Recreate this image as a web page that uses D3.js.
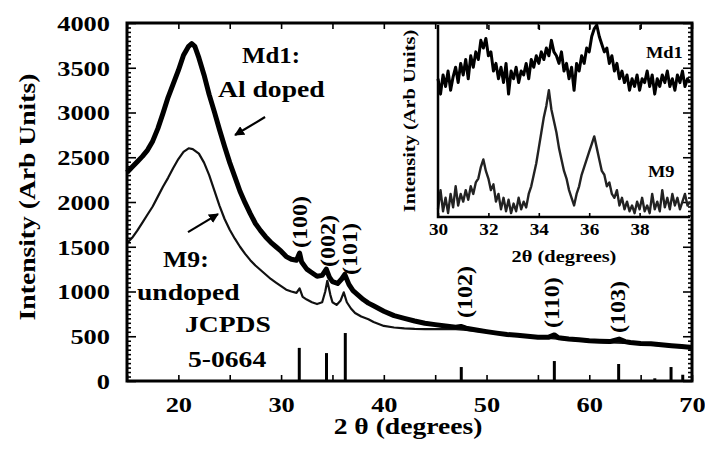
<!DOCTYPE html>
<html><head><meta charset="utf-8">
<script src="https://cdn.jsdelivr.net/npm/d3@7"></script>
<style>html,body{margin:0;padding:0;background:#fff;}svg{display:block;}</style>
</head><body>
<svg id="c" width="705" height="451"></svg>
<script>
// ---------------- DATA ----------------
const md1_2theta = [15,15.5,16,16.5,17,17.5,18,18.5,19,19.5,20,20.5,21,21.3,21.6,22,22.5,23,23.5,24,24.5,25,25.5,26,26.5,27,27.5,28,28.5,29,29.5,30,30.5,31,31.5,31.8,32,32.5,33,33.5,34,34.4,34.7,35,35.5,35.9,36.2,36.6,37,37.5,38,38.5,39,40,41,42,43,44,45,46,47,47.5,48,49,50,51,52,53,54,55,56,56.6,57,58,59,60,61,62,62.9,63.5,64,65,66,67,68,69,70];
const md1_intensity = [2330,2390,2450,2510,2580,2680,2820,2990,3170,3320,3470,3640,3740,3770,3740,3610,3420,3200,3010,2810,2620,2440,2280,2120,1990,1870,1760,1680,1610,1550,1500,1450,1390,1360,1350,1430,1330,1250,1210,1170,1180,1250,1160,1110,1090,1140,1190,1080,1010,960,910,870,840,780,730,700,670,645,630,615,602,610,590,570,552,535,520,510,500,490,488,515,483,470,460,450,445,440,468,440,430,420,415,405,395,385,375];
const m9_2theta = [15,15.5,16,16.5,17,17.5,18,18.5,19,19.5,20,20.5,21,21.4,22,22.5,23,23.5,24,24.5,25,25.5,26,26.5,27,27.5,28,28.5,29,29.5,30,30.5,31,31.5,31.8,32.1,32.5,33,33.5,34,34.3,34.5,34.8,35,35.4,35.8,36.1,36.4,36.8,37.2,37.8,38.5,39,40,41,42,43,44,45,46,47,48,49,50,52,54,56,58,60,62,64,66,68,70];
const m9_intensity = [1540,1600,1680,1770,1860,1950,2060,2170,2270,2380,2480,2560,2600,2590,2540,2440,2300,2130,1960,1810,1690,1590,1500,1420,1350,1290,1240,1190,1140,1100,1060,1020,1000,985,1035,940,910,880,860,880,1000,1120,960,880,850,900,990,880,810,760,720,690,660,615,598,588,582,580,580,580,578,572,560,545,515,492,482,462,442,432,422,407,387,367];
// JCPDS 5-0664 reference sticks
const jcpds_2theta = [31.77,34.42,36.25,47.54,56.60,62.86,66.38,67.96,69.10];
const jcpds_intensity = [370,312,536,156,223,190,30,156,70];
const miller_labels = ["(100)","(002)","(101)","(102)","(110)","(103)"];
const miller_pos = [[32.55,1486],[35.25,1273],[37.4,1184],[48.6,704],[57.06,592],[63.5,536]];
// inset (30-40 deg, arbitrary units), sampled every 0.1 deg
const inset_start = 30, inset_step = 0.1;
const inset_md1 = [72,64,74,68,76,66,73,78,70,80,74,82,72,84,78,86,82,92,88,93,84,86,76,80,72,78,70,80,64,76,72,78,70,76,74,80,72,82,78,84,80,86,82,88,84,92,86,84,80,86,76,80,72,78,66,80,76,84,80,88,86,94,98,100,94,90,86,88,80,84,76,80,72,76,70,74,66,72,68,74,66,72,70,76,68,74,64,72,68,74,70,76,68,72,66,74,70,76,68,72,70];
const inset_m9 = [4,14,3,10,2,12,5,16,6,12,8,14,9,16,12,18,20,26,30,24,20,14,17,8,12,4,10,3,9,2,7,3,10,4,8,5,12,16,22,28,36,44,52,58,66,56,50,44,36,30,24,20,14,10,6,12,16,22,26,30,34,38,42,36,30,24,22,16,18,12,10,14,6,10,4,8,3,6,2,8,4,10,3,6,2,12,4,8,3,14,5,10,4,12,6,10,4,8,12,6,8];
const x_ticks = [20,30,40,50,60,70];
const y_ticks = [0,500,1000,1500,2000,2500,3000,3500,4000];
const inset_x_ticks = [30,32,34,36,38];

// ---------------- CHART ----------------
const FONT = "'Liberation Serif','Times New Roman',serif";
const SX = 1.2;
const svg = d3.select("#c");
const L = 127, R = 692, T = 23, B = 381;
const x = d3.scaleLinear().domain([15,70]).range([L,R]);
const y = d3.scaleLinear().domain([0,4000]).range([B,T]);

function txt(g, px, py, s, size, anchor, rot, sx) {
  return g.append("text")
    .attr("transform", `translate(${px},${py}) rotate(${rot||0}) scale(${sx||SX},1)`)
    .attr("text-anchor", anchor||"start")
    .style("font-family", FONT).style("font-weight","bold").style("font-size", size+"px")
    .attr("fill","#000").text(s);
}
function styleAxis(g){
  g.select(".domain").remove();
  g.selectAll("line").attr("stroke","#000").attr("stroke-width",1.6);
  g.selectAll("text").style("font-family",FONT).style("font-weight","bold").attr("fill","#000");
}

// JCPDS sticks
svg.append("g").selectAll("line").data(jcpds_2theta).join("line")
  .attr("x1", d=>x(d)).attr("x2", d=>x(d))
  .attr("y1", y(0)).attr("y2", (d,i)=>y(jcpds_intensity[i]))
  .attr("stroke","#000").attr("stroke-width",3);

// curves
const line = d3.line().x(d=>x(d[0])).y(d=>y(d[1]));
svg.append("path").datum(m9_2theta.map((d,i)=>[d,m9_intensity[i]]))
  .attr("d",line).attr("fill","none").attr("stroke","#111").attr("stroke-width",2.2).attr("stroke-linejoin","round");
svg.append("path").datum(md1_2theta.map((d,i)=>[d,md1_intensity[i]]))
  .attr("d",line).attr("fill","none").attr("stroke","#000").attr("stroke-width",5).attr("stroke-linejoin","round");

// axes
const minorY = d3.range(0,4001,50).filter(v=>v%500!==0);
const fiveX = d3.range(15,71,5);
let g;
g = svg.append("g").attr("transform",`translate(0,${B})`)
  .call(d3.axisBottom(x).tickValues(fiveX).tickSizeInner(-6).tickSizeOuter(0).tickPadding(15).tickFormat(d=>d%10===0?d3.format("d")(d):""));
styleAxis(g);
g.selectAll("text").style("font-size","22px").each(function(){const t=d3.select(this);const yy=t.attr("y");t.attr("y",null).attr("transform",`translate(0,${yy}) scale(${SX},1)`);});
g = svg.append("g").attr("transform",`translate(0,${T})`)
  .call(d3.axisTop(x).tickValues(fiveX).tickSizeInner(-6).tickSizeOuter(0).tickFormat(""));
styleAxis(g);
g = svg.append("g").attr("transform",`translate(${L},0)`)
  .call(d3.axisLeft(y).tickValues(minorY).tickSizeInner(-4).tickSizeOuter(0).tickFormat(""));
styleAxis(g);
g = svg.append("g").attr("transform",`translate(${L},0)`)
  .call(d3.axisLeft(y).tickValues(y_ticks).tickSizeInner(-9).tickSizeOuter(0).tickPadding(17).tickFormat(d3.format("d")));
styleAxis(g);
g.selectAll("text").style("font-size","22px").each(function(){const t=d3.select(this);t.attr("x",null).attr("dy","0.34em").attr("transform",`translate(-17,0) scale(${SX},1)`);});
g = svg.append("g").attr("transform",`translate(${R},0)`)
  .call(d3.axisRight(y).tickValues(minorY).tickSizeInner(-4).tickSizeOuter(0).tickFormat(""));
styleAxis(g);
g = svg.append("g").attr("transform",`translate(${R},0)`)
  .call(d3.axisRight(y).tickValues(y_ticks).tickSizeInner(-9).tickSizeOuter(0).tickFormat(""));
styleAxis(g);

// frame
svg.append("rect").attr("x",L).attr("y",T).attr("width",R-L).attr("height",B-T)
  .attr("fill","none").attr("stroke","#000").attr("stroke-width",3);

// axis titles
txt(svg, 35, 197, "Intensity (Arb Units)", 23, "middle", -90);
txt(svg, 408, 434, "2 θ (degrees)", 23, "middle", 0);

// annotations
txt(svg, x(26.2), y(3552), "Md1:", 23, "start", 0, 1.08);
txt(svg, x(23.86), y(3172), "Al doped", 23, "start");
txt(svg, x(18.5), y(1273), "M9:", 23, "start", 0, 1.12);
txt(svg, x(15.97), y(905), "undoped", 23, "start");
txt(svg, x(20.65), y(547), "JCPDS", 23, "start");
txt(svg, x(20.94), y(156), "5-0664", 23, "start");
miller_labels.forEach((s,i)=>txt(svg, x(miller_pos[i][0]), y(miller_pos[i][1]), s, 20, "start", -90));

// arrows
const defs = svg.append("defs");
defs.append("marker").attr("id","ah").attr("viewBox","0 0 10 10").attr("refX",9).attr("refY",5)
  .attr("markerWidth",4.5).attr("markerHeight",4.5).attr("orient","auto")
  .append("path").attr("d","M0,0 L10,5 L0,10 Z").attr("fill","#000");
const arrows = [[[28.44,2949],[25.52,2748]],[[20.94,1664],[23.86,1865]]];
arrows.forEach(a=>svg.append("line").attr("x1",x(a[0][0])).attr("y1",y(a[0][1]))
  .attr("x2",x(a[1][0])).attr("y2",y(a[1][1])).attr("stroke","#000").attr("stroke-width",2.2).attr("marker-end","url(#ah)"));

// ---------------- INSET ----------------
const IL = 438, IR = 690, IT = 25, IB = 217;
const ix = d3.scaleLinear().domain([30,40]).range([IL,IR]);
const iy = d3.scaleLinear().domain([0,100]).range([IB,IT]);
const iline = d3.line().x((d,i)=>ix(inset_start+i*inset_step)).y(d=>iy(d));
svg.append("path").datum(inset_m9).attr("d",iline).attr("fill","none").attr("stroke","#222").attr("stroke-width",2.4).attr("stroke-linejoin","round");
svg.append("path").datum(inset_md1).attr("d",iline).attr("fill","none").attr("stroke","#000").attr("stroke-width",3).attr("stroke-linejoin","round");
g = svg.append("g").attr("transform",`translate(0,${IB})`)
  .call(d3.axisBottom(ix).tickValues(inset_x_ticks).tickSizeInner(-4).tickSizeOuter(0).tickPadding(7));
styleAxis(g);
g.selectAll("text").style("font-size","16px").each(function(){const t=d3.select(this);const yy=t.attr("y");t.attr("y",null).attr("transform",`translate(0,${yy}) scale(${SX},1)`);});
g = svg.append("g").attr("transform",`translate(0,${IT})`)
  .call(d3.axisTop(ix).tickValues(inset_x_ticks.slice(1)).tickSizeInner(-5).tickSizeOuter(0).tickFormat(""));
styleAxis(g);
svg.append("path").attr("d",`M${IL},${IT}V${IB}H${IR}`).attr("fill","none").attr("stroke","#000").attr("stroke-width",2.5);
txt(svg, 415, (IT+IB)/2, "Intensity (Arb Units)", 17, "middle", -90);
txt(svg, 564, 262, "2θ (degrees)", 17, "middle", 0);
txt(svg, ix(38.25), iy(83), "Md1", 16, "start", 0, 1.15);
txt(svg, ix(38.33), iy(21), "M9", 16, "start", 0, 1.15);
</script>
</body></html>
